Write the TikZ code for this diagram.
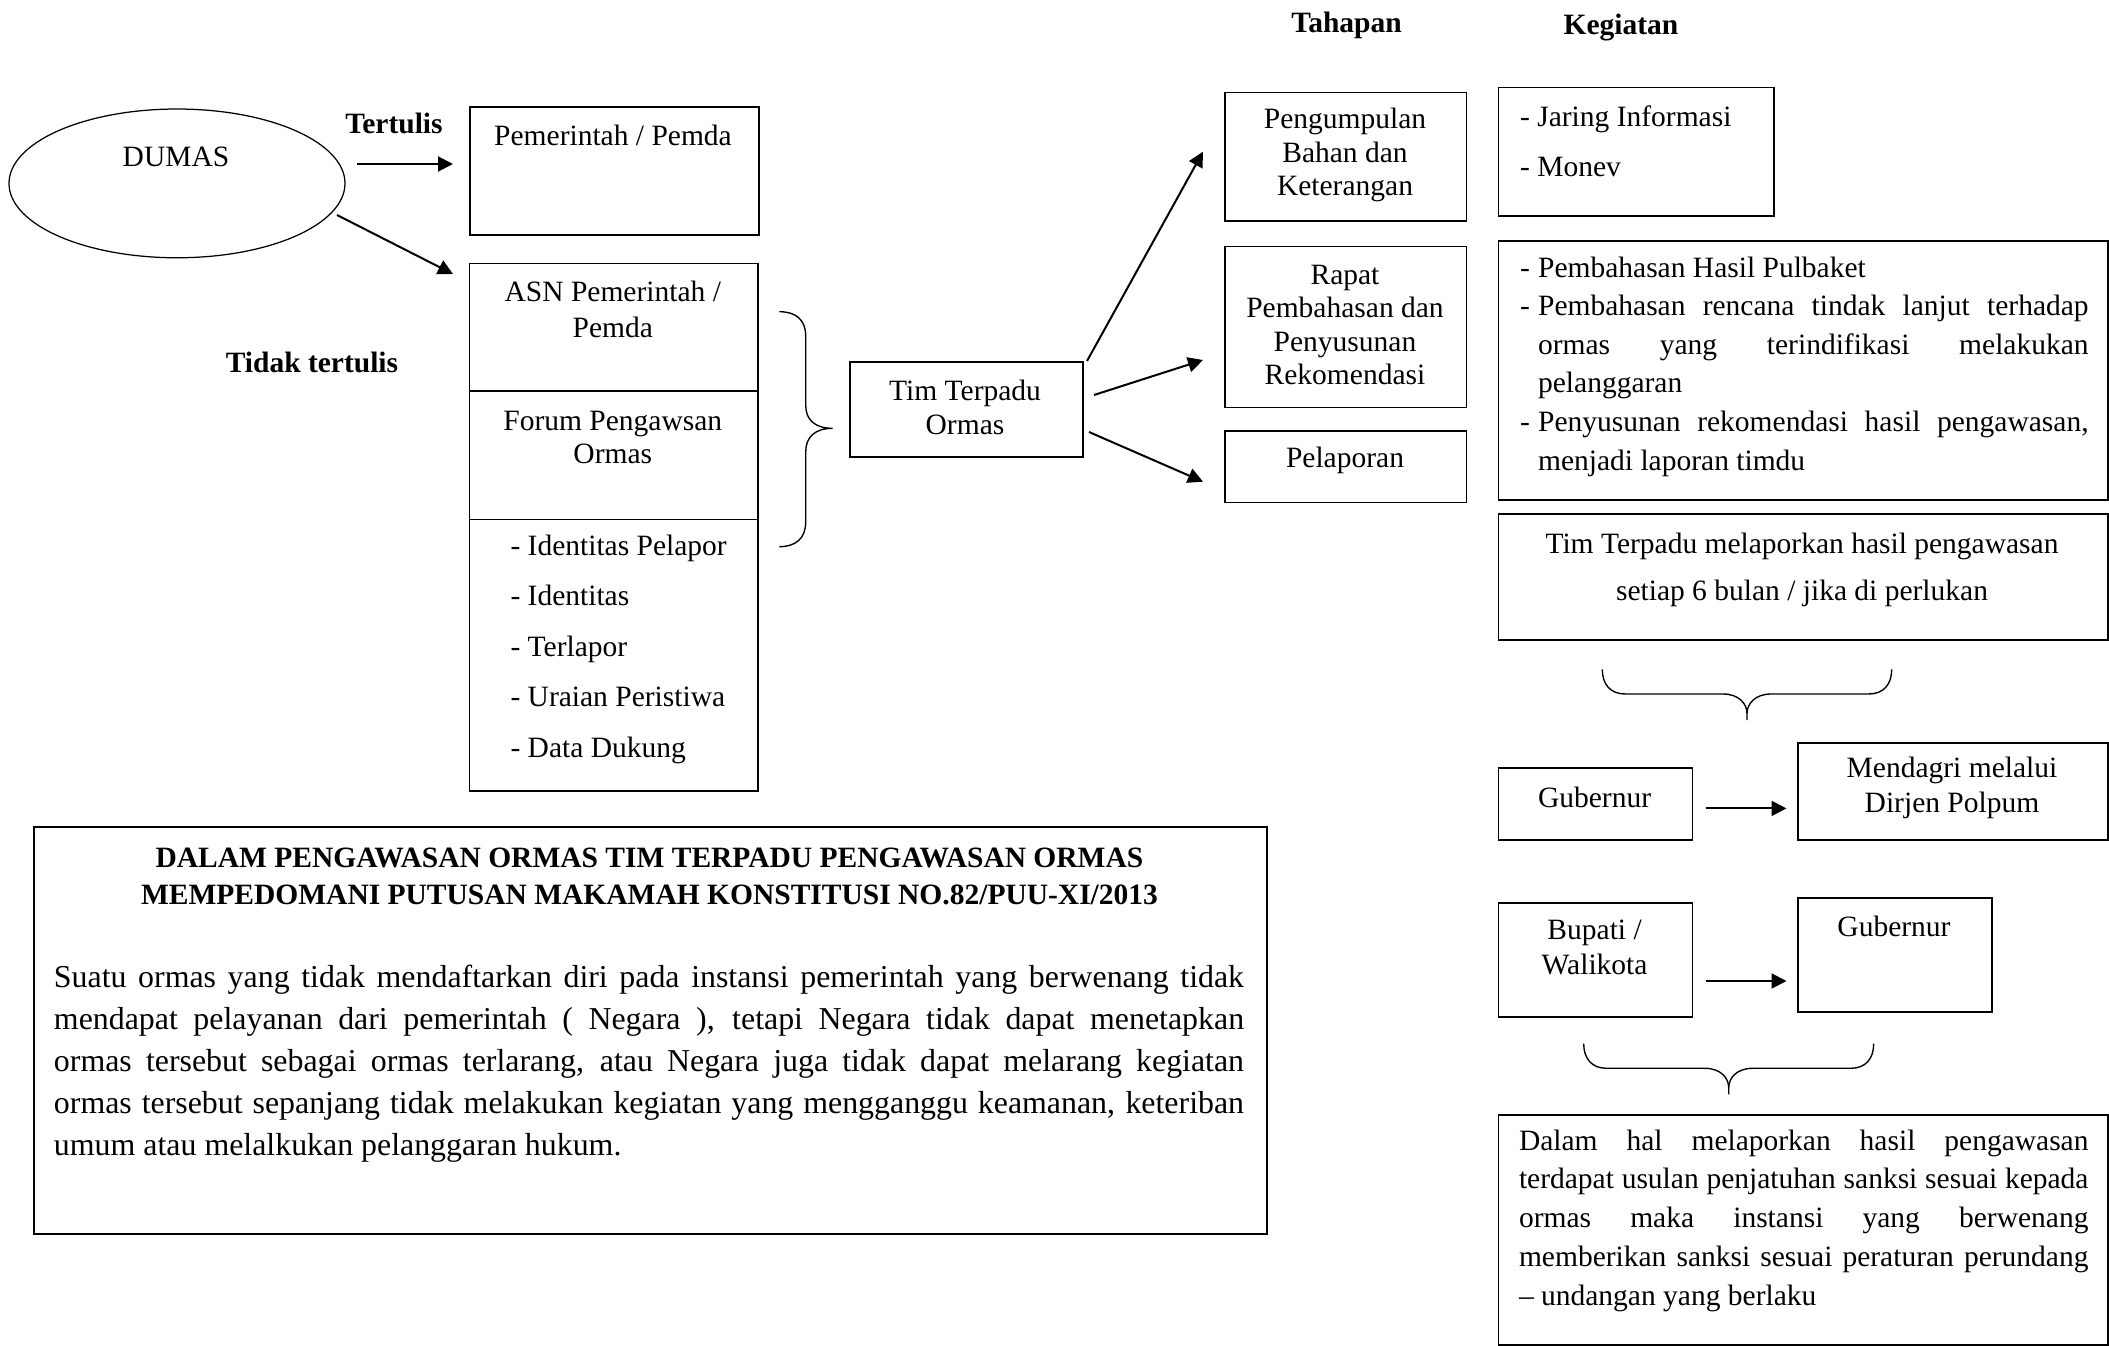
\documentclass[tikz,border=0pt]{standalone}
\usepackage{fontspec}
\setmainfont{Liberation Serif}
\usetikzlibrary{arrows.meta,shapes.geometric}
\newcommand\fsz[1]{\fontsize{11.8pt}{#1}\selectfont}
\newcommand\fszb[1]{\fontsize{12.75pt}{#1}\selectfont}
\newcommand\rbox[5]{\node[boxst, minimum width={(#4-#2)*0.4pt}, minimum height={(#5-#3)*0.4pt}] (#1) at (#2,#3) {};}
\newcommand\jset{\tolerance=10000\hyphenpenalty=10000\parindent=0pt\relax}
\begin{document}
\begin{tikzpicture}[x=0.4pt,y=-0.4pt,
  boxst/.style={draw, line width=0.7pt, inner sep=0pt, anchor=north west},
  txt/.style={inner sep=0pt, align=center, font=\fsz{14pt}},
  txtb/.style={inner sep=0pt, align=center, font=\fsz{14pt}\bfseries},
  arr/.style={line width=0.8pt, -{Triangle[length=6pt,width=6pt]}},
  brc/.style={line width=0.55pt}]
\useasboundingbox (0,0) rectangle (2109,1346);

% headers
\node[txtb] (thp) at (1346.5,25) {Tahapan};
\node[txtb] (kgt) at (1621,28) {Kegiatan};

% DUMAS
\node[draw, ellipse, line width=0.5pt, minimum width=134.4pt, minimum height=59.5pt, inner sep=0pt] (dumas) at (177,183.4) {};
\node[txt] (tdumas) at (176,157) {DUMAS};
\node[txtb] (ttul) at (394,123) {Tertulis};
\node[txtb] (ttdk) at (312,362.5) {Tidak tertulis};

\rbox{pem}{469}{106}{758}{234}
\node[txt] (tpem) at (613,135) {Pemerintah / Pemda};

\rbox{asn}{468.5}{262.5}{757}{390}
\rbox{forum}{468.5}{390}{757}{518.6}
\rbox{items}{468.5}{518.6}{757}{790}
\node[txt, font=\fsz{14.4pt}] (tasn) at (612.8,309) {ASN Pemerintah /\\Pemda};
\node[txt, font=\fsz{13pt}] (tforum) at (612.8,437.3) {Forum Pengawsan\\Ormas};
\node[txt, align=left, anchor=west, font=\fsz{20.2pt}] (titems) at (510,649) {- Identitas Pelapor\\- Identitas\\- Terlapor\\- Uraian Peristiwa\\- Data Dukung};

% arrows from DUMAS
\coordinate (a1s) at (357,164); \coordinate (a1e) at (453,164);
\coordinate (a2s) at (337,215); \coordinate (a2e) at (453,274);
\draw[arr] (a1s) -- (a1e);
\draw[arr] (a2s) -- (a2e);

% brace to Tim
\coordinate (b1a) at (779.3,311.7); \coordinate (b1tip) at (832.7,428.3); \coordinate (b1b) at (779.3,546.7);
\draw[brc] (b1a) .. controls (795,311.7) and (805.7,319) .. (805.7,336) -- (805.7,405)
  .. controls (805.7,420) and (815,428.3) .. (b1tip)
  .. controls (815,428.3) and (805.7,437) .. (805.7,452) -- (805.7,522)
  .. controls (805.7,539) and (795,546.7) .. (b1b);

\rbox{tim}{849}{361}{1082}{456}
\node[txt, font=\fsz{13.6pt}] (ttim) at (965,407) {Tim Terpadu\\Ormas};

% Tahapan
\rbox{peng}{1224}{91.7}{1465.5}{220}
\node[txt, font=\fsz{13.3pt}] (tpeng) at (1345,155) {Pengumpulan\\Bahan dan\\Keterangan};
\rbox{rapat}{1224}{245.7}{1465.5}{406.7}
\node[txt, font=\fsz{13.3pt}] (trapat) at (1345,325) {Rapat\\Pembahasan dan\\Penyusunan\\Rekomendasi};
\rbox{lapor}{1224}{430}{1465.5}{501.7}
\node[txt] (tlapor) at (1345,460) {Pelaporan};

\coordinate (a3s) at (1087,361); \coordinate (a3e) at (1203,151.7);
\coordinate (a4s) at (1094,395); \coordinate (a4e) at (1203,360);
\coordinate (a5s) at (1089,432); \coordinate (a5e) at (1203,481.7);
\draw[arr] (a3s) -- (a3e);
\draw[arr] (a4s) -- (a4e);
\draw[arr] (a5s) -- (a5e);

% Kegiatan
\rbox{kg1}{1497.7}{86.7}{1773}{215}
\node[txt, align=left, anchor=west, font=\fsz{20pt}] (tkg1) at (1519.6,141.7) {- Jaring Informasi\\- Monev};

\rbox{kg2}{1497.7}{240}{2107}{499}
\node[txt, align=justify, text width=227.4pt, anchor=west, font=\fsz{15.45pt}] (tkg2) at (1519.6,366.5) {\jset
\hangindent=7.2pt\hangafter=1 \makebox[7.2pt][l]{-}Pembahasan Hasil Pulbaket\par
\hangindent=7.2pt\hangafter=1 \makebox[7.2pt][l]{-}Pembahasan rencana tindak lanjut terhadap\linebreak ormas yang terindifikasi melakukan\linebreak pelanggaran\par
\hangindent=7.2pt\hangafter=1 \makebox[7.2pt][l]{-}Penyusunan rekomendasi hasil pengawasan,\linebreak menjadi laporan timdu\par};

\rbox{lapk}{1497.5}{513}{2107}{639.4}
\node[txt, font=\fsz{18.8pt}] (tlapk) at (1802,569.5) {Tim Terpadu melaporkan hasil pengawasan\\setiap 6 bulan / jika di perlukan};

% brace 2
\coordinate (b2l) at (1602.3,669.3); \coordinate (b2tip) at (1747,713.3); \coordinate (b2s) at (1747,720); \coordinate (b2r) at (1891.7,669.3);
\draw[brc] (b2l) .. controls (1602.3,684.3) and (1610.3,694) .. (1625.3,694) -- (1723,694)
  .. controls (1739,694) and (1747,704) .. (b2tip) -- (b2s);
\draw[brc] (b2tip) .. controls (1747,704) and (1755,694) .. (1771,694) -- (1868.7,694)
  .. controls (1883.7,694) and (1891.7,684.3) .. (b2r);

\rbox{gub1}{1497.5}{767}{1691.7}{839}
\node[txt] (tgub1) at (1594.6,797) {Gubernur};
\rbox{mdg}{1796.8}{741.8}{2107}{839.4}
\node[txt, font=\fsz{13.8pt}] (tmdg) at (1952,787.7) {Mendagri melalui\\Dirjen Polpum};
\coordinate (a6s) at (1705.6,808.4); \coordinate (a6e) at (1786.5,808.4);
\draw[arr] (a6s) -- (a6e);

\rbox{bup}{1497.5}{902.4}{1691.7}{1016.3}
\node[txt, font=\fsz{14pt}] (tbup) at (1594.6,947.5) {Bupati /\\Walikota};
\rbox{gub2}{1796.8}{896.9}{1991.4}{1011}
\node[txt] (tgub2) at (1894,926.5) {Gubernur};
\coordinate (a7s) at (1705.6,981); \coordinate (a7e) at (1786.5,981);
\draw[arr] (a7s) -- (a7e);

% brace 3
\coordinate (b3l) at (1583.7,1043.6); \coordinate (b3tip) at (1728.7,1087.6); \coordinate (b3s) at (1728.7,1094.3); \coordinate (b3r) at (1873.7,1043.6);
\draw[brc] (b3l) .. controls (1583.7,1058.6) and (1591.7,1068.3) .. (1606.7,1068.3) -- (1704.7,1068.3)
  .. controls (1720.7,1068.3) and (1728.7,1078) .. (b3tip) -- (b3s);
\draw[brc] (b3tip) .. controls (1728.7,1078) and (1736.7,1068.3) .. (1752.7,1068.3) -- (1850.7,1068.3)
  .. controls (1865.7,1068.3) and (1873.7,1058.6) .. (b3r);

\rbox{sank}{1497.5}{1114}{2107}{1344}
\node[txt, align=justify, text width=227.8pt, anchor=west, font=\fsz{15.5pt}] (tsank) at (1518.5,1220.5) {\jset Dalam hal melaporkan hasil pengawasan\linebreak terdapat usulan penjatuhan sanksi sesuai kepada\linebreak ormas maka instansi yang berwenang\linebreak memberikan sanksi sesuai peraturan perundang\linebreak – undangan yang berlaku\par};

% bottom-left box
\rbox{mk}{33}{826}{1266}{1233}
\node[txt, font=\fsz{14.8pt}\bfseries] (tmk1) at (649.5,876.5) {DALAM PENGAWASAN ORMAS TIM TERPADU PENGAWASAN ORMAS\\MEMPEDOMANI PUTUSAN MAKAMAH KONSTITUSI NO.82/PUU-XI/2013};
\node[txt, align=justify, text width=476pt, font=\fszb{16.8pt}] (tmk2) at (649,1064) {\jset Suatu ormas yang tidak mendaftarkan diri pada instansi pemerintah yang berwenang tidak\linebreak mendapat pelayanan dari pemerintah ( Negara ), tetapi Negara tidak dapat menetapkan\linebreak ormas tersebut sebagai ormas terlarang, atau Negara juga tidak dapat melarang kegiatan\linebreak ormas tersebut sepanjang tidak melakukan kegiatan yang mengganggu keamanan, keteriban\linebreak umum atau melalkukan pelanggaran hukum.\par};
\end{tikzpicture}
\end{document}
